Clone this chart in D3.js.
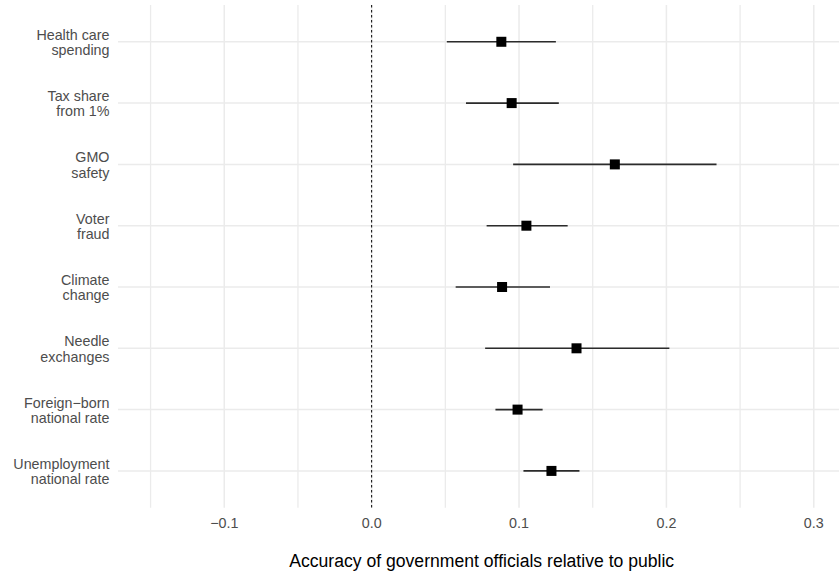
<!DOCTYPE html>
<html>
<head>
<meta charset="utf-8">
<script src="https://cdn.jsdelivr.net/npm/d3@7"></script>
<style>
  html, body { margin: 0; padding: 0; background: #fff; }
  svg { display: block; font-family: "Liberation Sans", Arial, Helvetica, sans-serif; }
</style>
</head>
<body>
<svg id="chart" width="839" height="573"></svg>
<script>
// ---- data ----
const categories = [
  ["Health care", "spending"],
  ["Tax share", "from 1%"],
  ["GMO", "safety"],
  ["Voter", "fraud"],
  ["Climate", "change"],
  ["Needle", "exchanges"],
  ["Foreign\u2212born", "national rate"],
  ["Unemployment", "national rate"]
];
const estimates = [0.088, 0.095, 0.165, 0.105, 0.0885, 0.139, 0.099, 0.122];
const lowerCI   = [0.051, 0.064, 0.096, 0.078, 0.057, 0.077, 0.084, 0.103];
const upperCI   = [0.125, 0.127, 0.234, 0.133, 0.121, 0.202, 0.116, 0.141];
const majorTicks = [-0.1, 0.0, 0.1, 0.2, 0.3];
const minorTicks = [-0.15, -0.05, 0.05, 0.15, 0.25];
const xTitle = "Accuracy of government officials relative to public";

// ---- layout ----
const svg = d3.select("#chart");
const panel = { left: 118, right: 839, top: 5, bottom: 507.7 };

const x = d3.scaleLinear()
  .domain([-0.1721, 0.3171])
  .range([panel.left, panel.right]);

const keys = categories.map((c, i) => i);
const y = d3.scalePoint()
  .domain(keys)
  .range([panel.top, panel.bottom])
  .padding(0.6);

const grid = svg.append("g");
grid.selectAll("line.minor").data(minorTicks).join("line")
  .attr("x1", d => x(d)).attr("x2", d => x(d))
  .attr("y1", panel.top).attr("y2", panel.bottom)
  .attr("stroke", "#ebebeb").attr("stroke-width", 1.3);
grid.selectAll("line.major").data(majorTicks).join("line")
  .attr("x1", d => x(d)).attr("x2", d => x(d))
  .attr("y1", panel.top).attr("y2", panel.bottom)
  .attr("stroke", "#ebebeb").attr("stroke-width", 1.5);
grid.selectAll("line.h").data(keys).join("line")
  .attr("x1", panel.left).attr("x2", panel.right)
  .attr("y1", d => y(d)).attr("y2", d => y(d))
  .attr("stroke", "#ebebeb").attr("stroke-width", 1.5);

// dashed zero line
svg.append("line")
  .attr("x1", x(0)).attr("x2", x(0))
  .attr("y1", panel.top).attr("y2", panel.bottom)
  .attr("stroke", "#000").attr("stroke-width", 1)
  .attr("stroke-dasharray", "2.5,2.5");

// error bars
svg.append("g").selectAll("line").data(keys).join("line")
  .attr("x1", i => x(lowerCI[i])).attr("x2", i => x(upperCI[i]))
  .attr("y1", i => y(i)).attr("y2", i => y(i))
  .attr("stroke", "#2b2b2b").attr("stroke-width", 1.6);

// points
const sq = 10;
svg.append("g").selectAll("rect").data(keys).join("rect")
  .attr("x", i => x(estimates[i]) - sq / 2)
  .attr("y", i => y(i) - sq / 2)
  .attr("width", sq).attr("height", sq)
  .attr("fill", "#000");

// x axis tick labels
const fmt = d3.format(".1f");
svg.append("g").selectAll("text").data(majorTicks).join("text")
  .attr("x", d => x(d)).attr("y", 527.5)
  .attr("text-anchor", "middle")
  .attr("font-size", 14.3)
  .attr("fill", "#4d4d4d")
  .text(d => fmt(d));

// y axis labels (two lines each)
const yl = svg.append("g").selectAll("text").data(keys).join("text")
  .attr("text-anchor", "end")
  .attr("font-size", 14.3)
  .attr("fill", "#4d4d4d");
yl.each(function(i) {
  const t = d3.select(this);
  categories[i].forEach((line, k) => {
    t.append("tspan")
      .attr("x", 109.5)
      .attr("y", y(i) - 2 + k * 15.3)
      .text(line);
  });
});

// x axis title
svg.append("text")
  .attr("x", 481.7)
  .attr("y", 566.5)
  .attr("text-anchor", "middle")
  .attr("font-size", 17.6)
  .attr("fill", "#000")
  .text(xTitle);
</script>
</body>
</html>
